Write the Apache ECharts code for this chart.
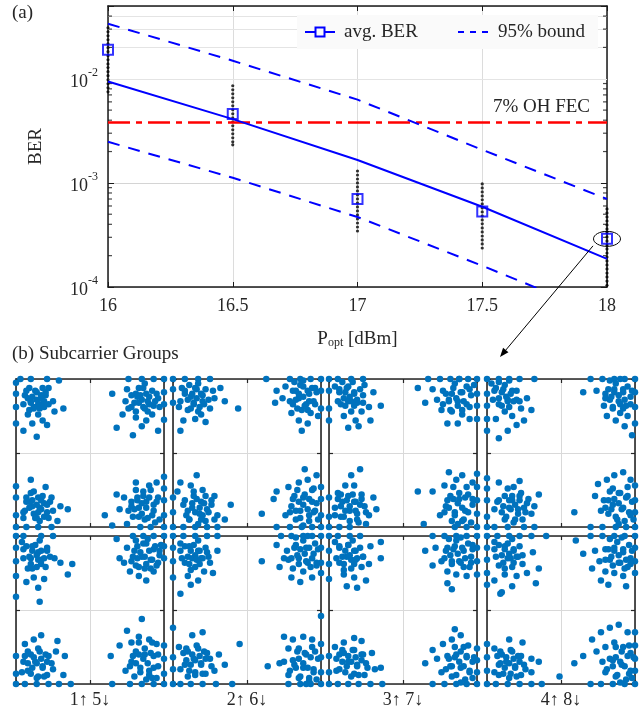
<!DOCTYPE html>
<html><head><meta charset="utf-8">
<script src="https://cdn.jsdelivr.net/npm/echarts@6/dist/echarts.min.js"></script>
<style>html,body{margin:0;padding:0;background:#fff}#c{width:644px;height:713px}</style>
</head><body><div id="c"></div>
<script>
// ---------- (a) BER data ----------
const xTicks = [16, 16.5, 17, 17.5, 18];
const fitX = [16, 16.5, 17, 17.5, 18];
const fitBER = [0.0094, 0.0041, 0.00166, 0.00059, 0.000186];
const upperBER = [0.0338, 0.0149, 0.0063, 0.00208, 0.00070];
const lowerBER = [0.00248, 0.00112, 0.00047, 0.00016, 0.000052];
const avgX = [16, 16.5, 17, 17.5, 18];
const avgBER = [0.019, 0.0046, 0.0007, 0.00053, 0.00029];
const fecBER = 0.0038;
const subBER16 = [0.0309,0.0283,0.0259,0.0237,0.0217,0.0199,0.0182,0.0166,0.0152,0.0139,0.0128,0.0117,0.0107,0.00978,0.00895,0.00819,0.0075];
const subBER165 = [0.00857,0.00784,0.00717,0.00656,0.00601,0.0055,0.00503,0.00461,0.00421,0.00386,0.00353,0.00323,0.00296,0.00271,0.00248,0.00232];
const subBER17 = [0.0013,0.00119,0.00109,0.001,0.000915,0.000837,0.000767,0.000702,0.000642,0.000588,0.000538,0.000492,0.000451,0.000412,0.000377,0.000345];
const subBER175 = [0.000978,0.000895,0.000819,0.00075,0.000687,0.000628,0.000575,0.000526,0.000482,0.000441,0.000404,0.000369,0.000338,0.000309,0.000283,0.000259,0.000237];
const subBER18 = [0.000562,0.000515,0.000471,0.000431,0.000395,0.000361,0.000331,0.000303,0.000277,0.000253,0.000232,0.000212,0.000194,0.000178,0.000163,0.000149,0.000136,0.000125,0.000114,0.000104];
const minorBER = [2e-4,3e-4,4e-4,5e-4,6e-4,7e-4,8e-4,9e-4,2e-3,3e-3,4e-3,5e-3,6e-3,7e-3,8e-3,9e-3,2e-2,3e-2,4e-2];

// ---------- (b) constellations (row 1: a, row 2: b) ----------
const groupLabels = ['1\u2191 5\u2193','2\u2191 6\u2193','3\u2191 7\u2193','4\u2191 8\u2193'];
const c1a = [[-100,95],[-100,80],[-100,62],[-94,100],[-80,100],[-58,100],[-42,98],[-88,78],[-80,70],[-72,82],[-66,74],[-76,60],[-62,62],[-70,52],[-56,88],[-50,70],[-84,52],[-64,44],[-78,40],[-48,56],[-36,60],[-58,38],[-90,30],[-72,22],[-100,40],[-68,66],[-60,78],[-82,88],
 [100,100],[86,100],[70,100],[52,100],[100,82],[100,66],[100,45],[30,80],[50,86],[62,80],[72,88],[80,76],[66,68],[56,62],[74,60],[86,64],[92,74],[48,70],[62,48],[76,44],[84,52],[44,52],[36,34],[58,24],[70,36],[92,30],[78,70],[68,78],
 [-100,-100],[-86,-100],[-70,-100],[-52,-100],[-100,-84],[-100,-60],[-100,-45],[-86,-60],[-76,-52],[-66,-64],[-78,-72],[-70,-80],[-58,-70],[-88,-78],[-62,-86],[-50,-78],[-74,-88],[-80,-36],[-60,-46],[-52,-60],[-40,-72],[-30,-76],[-44,-92],[-90,-88],[-68,-74],[-82,-66],
 [100,-100],[100,-84],[100,-64],[100,-48],[100,-32],[82,-100],[68,-100],[50,-96],[30,-98],[20,-84],[40,-76],[56,-72],[64,-60],[72,-52],[80,-44],[90,-40],[62,-40],[76,-66],[86,-70],[70,-82],[58,-86],[46,-60],[36,-56],[84,-84],[92,-60],[66,-74],[74,-90],
 [-72,72],[-78,76],[-66,78],[-70,66],[-80,68],[-62,70],[-74,84],[-84,74],[-68,60],[-76,62],[-60,82],[-86,84],[-64,88],[-90,66],[-56,66],[-82,58],
 [70,72],[64,76],[76,80],[80,66],[60,68],[72,62],[84,84],[66,88],[56,78],[90,80],[78,56],[52,60],[88,70],[62,56],[74,94],[94,62],
 [-72,-70],[-66,-76],[-78,-64],[-62,-68],[-82,-74],[-70,-60],[-76,-82],[-58,-80],[-86,-66],[-64,-58],[-90,-80],[-54,-66],[-68,-92],[-80,-54],[-72,-88],[-56,-88],
 [70,-68],[76,-74],[64,-64],[80,-60],[60,-76],[72,-58],[86,-78],[66,-86],[56,-66],[90,-66],[78,-88],[52,-78],[82,-50],[62,-50],[94,-90],[88,-94]];
const c2a = [[-100,100],[-100,86],[-100,68],[-92,62],[-84,100],[-66,100],[-50,100],[-84,84],[-76,76],[-68,86],[-60,78],[-72,66],[-58,66],[-80,58],[-66,56],[-50,60],[-44,74],[-36,88],[-30,70],[-86,44],[-70,46],[-56,42],[-62,52],[-90,30],[-46,84],[-12,60],
 [100,100],[86,100],[72,100],[58,100],[100,84],[100,60],[26,100],[40,84],[52,90],[66,84],[76,90],[84,80],[70,74],[80,66],[90,70],[62,66],[74,58],[86,54],[60,54],[70,44],[82,40],[48,74],[96,50],[74,30],[38,68],[92,88],
 [-100,-60],[-100,-80],[-100,-100],[-86,-100],[-70,-100],[-54,-100],[-40,-100],[-94,-52],[-84,-64],[-72,-58],[-62,-66],[-74,-74],[-64,-82],[-82,-84],[-54,-76],[-48,-64],[-60,-50],[-76,-44],[-68,-30],[-90,-40],[-40,-84],[-30,-90],[-22,-70],[-56,-92],[-44,-58],[-78,-90],
 [100,-100],[100,-84],[100,-62],[100,-46],[88,-100],[74,-100],[58,-100],[40,-100],[20,-82],[40,-52],[56,-46],[70,-40],[82,-36],[90,-48],[64,-58],[76,-60],[88,-66],[60,-72],[72,-78],[84,-84],[52,-84],[66,-90],[92,-78],[36,-62],[78,-22],[94,-30],
 [-68,74],[-74,80],[-62,80],[-72,68],[-80,72],[-60,70],[-70,88],[-84,80],[-64,62],[-76,60],[-56,86],[-88,88],[-52,72],[-90,70],[-66,94],[-78,92],
 [76,76],[70,80],[82,84],[84,70],[66,72],[78,64],[88,88],[72,92],[62,84],[94,82],[82,58],[58,70],[92,66],[68,60],[76,98],[64,96],
 [-64,-74],[-70,-80],[-58,-68],[-74,-68],[-60,-84],[-68,-62],[-80,-78],[-52,-80],[-78,-90],[-56,-58],[-86,-70],[-48,-70],[-66,-96],[-72,-52],[-62,-90],[-44,-90],
 [76,-70],[82,-76],[70,-66],[84,-62],[66,-78],[78,-56],[90,-80],[72,-88],[62,-62],[94,-68],[84,-92],[58,-80],[88,-50],[68,-50],[96,-90],[76,-98]];
const c3a = [[-100,100],[-100,84],[-100,60],[-100,44],[-88,100],[-70,100],[-54,100],[-86,82],[-76,88],[-66,80],[-74,70],[-84,66],[-62,68],[-54,78],[-70,56],[-56,56],[-80,50],[-64,44],[-46,62],[-40,82],[-44,44],[-60,36],[-74,34],[-30,64],[-52,92],
 [100,100],[88,100],[76,100],[64,100],[50,100],[34,100],[100,80],[100,64],[100,46],[20,88],[40,86],[54,84],[68,88],[80,82],[90,86],[46,72],[62,72],[74,70],[86,66],[30,68],[52,58],[66,56],[80,52],[90,46],[60,40],[74,40],
 [-100,-100],[-86,-100],[-72,-100],[-100,-86],[-100,-60],[-92,-74],[-82,-66],[-74,-58],[-64,-66],[-72,-78],[-62,-82],[-84,-86],[-52,-72],[-56,-56],[-66,-44],[-78,-44],[-46,-84],[-40,-60],[-60,-94],[-88,-54],[-70,-30],[-58,-22],[-36,-76],[-50,-96],
 [100,-100],[100,-82],[100,-64],[100,-46],[100,-28],[86,-100],[70,-100],[28,-96],[20,-52],[40,-52],[56,-44],[72,-36],[80,-30],[64,-58],[76,-62],[88,-56],[58,-72],[70,-80],[84,-78],[94,-70],[66,-92],[80,-92],[50,-84],[94,-40],[62,-26],
 [-72,76],[-78,82],[-66,82],[-70,70],[-80,74],[-62,72],[-74,90],[-86,86],[-66,64],[-78,64],[-58,86],[-88,70],[-54,68],[-92,90],[-68,96],[-82,96],
 [72,74],[66,80],[78,82],[82,70],[62,70],[74,64],[86,90],[70,94],[58,80],[92,78],[80,58],[54,66],[90,62],[64,58],[76,100],[96,92],
 [-72,-72],[-78,-78],[-66,-66],[-76,-64],[-84,-72],[-64,-78],[-80,-86],[-58,-70],[-88,-62],[-68,-56],[-92,-84],[-56,-62],[-72,-92],[-84,-56],[-62,-90],[-50,-80],
 [74,-68],[80,-74],[68,-62],[84,-60],[62,-74],[76,-54],[88,-80],[70,-84],[60,-64],[94,-62],[82,-90],[56,-80],[86,-46],[68,-46],[92,-94],[74,-96]];
const c4a = [[-100,100],[-100,80],[-100,64],[-100,46],[-100,30],[-84,100],[-70,100],[-56,100],[-36,100],[-90,84],[-78,86],[-66,84],[-72,72],[-60,72],[-84,66],[-54,60],[-76,56],[-66,50],[-88,46],[-46,74],[-40,58],[-60,38],[-72,30],[-84,20],[-50,44],
 [100,100],[86,100],[72,100],[56,100],[40,100],[100,82],[100,62],[100,40],[30,82],[48,84],[60,80],[72,86],[84,82],[94,76],[66,72],[78,70],[88,64],[58,64],[70,60],[80,54],[62,50],[74,44],[90,50],[86,36],[96,24],
 [-100,-100],[-100,-86],[-100,-64],[-100,-48],[-100,-34],[-90,-100],[-72,-100],[-50,-100],[-36,-100],[-86,-66],[-76,-58],[-66,-64],[-56,-58],[-44,-62],[-70,-74],[-58,-76],[-80,-80],[-48,-80],[-36,-72],[-62,-90],[-76,-90],[-30,-56],[-64,-46],[-84,-40],[-56,-38],[-90,-76],
 [100,-100],[100,-80],[100,-64],[100,-44],[88,-100],[74,-100],[56,-100],[40,-100],[18,-80],[50,-42],[62,-36],[72,-30],[84,-26],[94,-36],[66,-52],[78,-54],[90,-58],[58,-64],[70,-70],[82,-76],[94,-84],[64,-82],[76,-90],[46,-58],[54,-78],
 [-74,76],[-80,82],[-68,80],[-72,70],[-84,74],[-64,70],[-76,92],[-88,88],[-70,62],[-80,64],[-60,84],[-92,72],[-56,70],[-94,94],[-70,98],[-84,96],
 [78,78],[72,82],[84,86],[86,72],[68,76],[80,66],[90,90],[74,94],[64,86],[96,84],[84,60],[60,74],[94,66],[70,62],[80,100],[66,98],
 [-62,-70],[-68,-76],[-56,-64],[-70,-64],[-58,-82],[-66,-58],[-78,-72],[-50,-74],[-74,-86],[-54,-54],[-84,-64],[-46,-68],[-64,-94],[-72,-48],[-52,-90],[-40,-82],
 [78,-68],[84,-74],[72,-62],[88,-60],[68,-76],[80,-54],[92,-80],[74,-86],[64,-64],[96,-66],[86,-92],[60,-74],[90,-46],[70,-48],[98,-90],[78,-96]];
const c1b = [[-100,100],[-100,84],[-100,66],[-100,46],[-100,18],[-90,100],[-66,100],[-50,100],[-90,82],[-78,86],[-70,78],[-80,70],[-66,68],[-58,80],[-72,58],[-60,58],[-84,56],[-48,70],[-40,64],[-76,44],[-62,42],[-70,30],[-86,38],[-68,11],[-30,48],[-24,62],
 [100,100],[100,86],[100,70],[86,100],[72,100],[58,100],[36,96],[50,84],[64,86],[76,90],[86,82],[94,74],[58,72],[70,72],[82,68],[90,60],[46,64],[62,60],[74,56],[86,52],[66,46],[76,40],[54,52],[40,70],[96,88],
 [-100,-100],[-100,-86],[-100,-62],[-88,-100],[-72,-100],[-56,-100],[-42,-100],[-26,-100],[-90,-70],[-80,-60],[-70,-52],[-60,-60],[-74,-70],[-64,-76],[-84,-82],[-52,-72],[-46,-56],[-58,-88],[-70,-90],[-34,-62],[-36,-88],[-76,-40],[-66,-34],[-88,-46],[-44,-42],
 [100,-100],[100,-86],[100,-66],[100,-48],[86,-100],[70,-100],[54,-100],[30,-100],[50,-28],[70,-12],[28,-62],[40,-48],[56,-44],[66,-36],[80,-40],[90,-46],[62,-56],[74,-60],[86,-62],[56,-70],[68,-78],[80,-82],[92,-76],[48,-82],[60,-90],[84,-92],
 [-72,74],[-78,80],[-66,80],[-70,68],[-82,72],[-62,70],[-74,88],[-86,86],[-66,62],[-80,62],[-58,84],[-90,70],[-54,72],[-92,92],[-68,94],[-78,56],
 [74,72],[68,78],[80,80],[84,68],[64,70],[76,62],[88,86],[72,90],[60,80],[94,80],[82,56],[56,66],[92,64],[66,58],[78,96],[62,94],
 [-72,-72],[-78,-78],[-66,-66],[-76,-64],[-84,-72],[-64,-78],[-80,-86],[-58,-70],[-88,-62],[-68,-56],[-92,-84],[-56,-62],[-72,-92],[-84,-56],[-62,-90],[-50,-80],
 [72,-66],[78,-72],[66,-60],[82,-58],[62,-72],[74,-52],[86,-78],[68,-84],[58,-62],[92,-60],[80,-88],[54,-76],[84,-44],[66,-44],[90,-92],[76,-94]];
const c2b = [[-100,100],[-100,84],[-100,66],[-100,44],[-100,-24],[-86,100],[-70,100],[-54,100],[-40,100],[-90,80],[-78,86],[-66,80],[-74,70],[-62,70],[-84,64],[-50,64],[-70,58],[-58,52],[-80,46],[-46,50],[-66,40],[-76,34],[-90,22],[-54,78],[-40,80],
 [100,100],[88,100],[76,100],[60,100],[46,100],[100,84],[100,64],[100,50],[20,66],[40,88],[54,80],[66,88],[80,84],[90,76],[56,68],[70,70],[82,64],[94,60],[44,58],[62,56],[76,52],[88,44],[60,44],[72,38],[50,70],
 [-100,-100],[-100,-80],[-100,-64],[-90,-100],[-76,-100],[-60,-100],[-42,-100],[-20,-100],[-92,-50],[-80,-56],[-68,-48],[-58,-56],[-72,-66],[-62,-72],[-84,-74],[-50,-66],[-38,-60],[-70,-84],[-56,-86],[-80,-90],[-44,-82],[-30,-74],[-74,-34],[-60,-30],[-10,-46],
 [100,-100],[100,-84],[100,-64],[100,-46],[100,-8],[86,-100],[72,-100],[56,-100],[44,-72],[50,-36],[62,-40],[76,-36],[88,-40],[56,-52],[68,-56],[80,-60],[92,-56],[50,-70],[64,-74],[76,-78],[90,-80],[56,-88],[70,-92],[84,-92],[28,-76],
 [-70,74],[-76,80],[-64,80],[-68,68],[-80,72],[-60,70],[-72,88],[-84,86],[-64,62],[-78,62],[-56,84],[-88,70],[-52,72],[-90,90],[-66,94],[-76,54],
 [78,76],[72,82],[84,84],[88,70],[68,74],[80,66],[92,90],[76,94],[64,84],[96,82],[86,58],[60,70],[94,64],[70,62],[82,100],[66,98],
 [-70,-68],[-76,-74],[-64,-62],[-74,-60],[-82,-68],[-62,-74],[-78,-82],[-56,-66],[-86,-58],[-66,-52],[-90,-80],[-54,-58],[-70,-88],[-82,-52],[-60,-86],[-48,-76],
 [76,-72],[82,-78],[70,-66],[86,-64],[66,-78],[78,-58],[90,-84],[72,-90],[62,-68],[96,-66],[84,-96],[58,-82],[88,-50],[70,-52],[94,-94],[80,-100]];
const c3b = [[-100,100],[-100,80],[-100,62],[-100,42],[-88,100],[-72,100],[-58,100],[-86,84],[-74,88],[-64,80],[-76,72],[-64,68],[-86,64],[-54,72],[-70,56],[-56,58],[-80,48],[-66,44],[-46,62],[-44,86],[-30,70],[-30,92],[-50,40],[-62,30],[-76,32],
 [100,100],[86,100],[72,100],[56,100],[40,100],[100,84],[100,66],[100,48],[30,80],[44,84],[58,80],[70,86],[82,80],[92,72],[52,66],[66,66],[78,64],[90,58],[60,52],[72,48],[86,46],[60,36],[66,28],[40,60],[94,88],
 [-100,-100],[-100,-84],[-100,-62],[-88,-100],[-74,-100],[-60,-100],[-44,-100],[-28,-100],[-90,-66],[-80,-58],[-68,-54],[-56,-60],[-74,-70],[-62,-74],[-86,-80],[-50,-72],[-42,-58],[-66,-86],[-52,-88],[-38,-80],[-80,-44],[-66,-38],[-56,-42],[-30,-78],[-92,-50],
 [100,-100],[100,-84],[100,-68],[100,-52],[86,-100],[72,-100],[56,-100],[40,-100],[30,-72],[40,-54],[54,-46],[66,-40],[78,-34],[46,-66],[60,-62],[72,-60],[86,-64],[94,-70],[64,-76],[78,-78],[90,-84],[52,-84],[66,-90],[70,-26],[82,-50],
 [-72,74],[-78,80],[-66,80],[-70,68],[-82,72],[-62,70],[-74,88],[-86,86],[-66,62],[-80,62],[-58,84],[-90,70],[-54,72],[-92,92],[-68,94],[-80,54],
 [74,76],[68,82],[80,84],[84,70],[64,74],[76,66],[88,90],[72,94],[60,84],[94,82],[82,58],[56,70],[92,64],[66,62],[78,98],[62,96],
 [-70,-70],[-76,-76],[-64,-64],[-74,-62],[-82,-70],[-62,-76],[-78,-84],[-56,-68],[-86,-60],[-66,-54],[-90,-82],[-54,-60],[-70,-90],[-82,-54],[-60,-88],[-48,-78],
 [76,-70],[82,-76],[70,-64],[86,-62],[66,-76],[78,-56],[90,-82],[72,-88],[62,-66],[96,-64],[84,-94],[58,-80],[88,-48],[70,-50],[94,-92],[78,-98]];
const c4b = [[-100,100],[-100,84],[-100,68],[-100,50],[-100,34],[-86,100],[-70,100],[-56,100],[-40,100],[-20,100],[-90,82],[-76,86],[-64,80],[-72,70],[-58,72],[-84,60],[-66,58],[-52,62],[-76,48],[-60,46],[-46,50],[-90,40],[-66,32],[-80,24],[-38,78],[-30,56],[-34,36],[-82,22],
 [100,100],[100,84],[100,66],[100,50],[86,100],[72,100],[56,100],[40,100],[20,94],[30,76],[46,80],[60,82],[72,84],[84,78],[94,70],[52,66],[66,68],[78,64],[90,58],[60,52],[72,50],[84,46],[54,40],[64,34],[42,56],[88,32],
 [-100,-100],[-100,-82],[-100,-64],[-100,-46],[-88,-100],[-72,-100],[-56,-100],[-40,-100],[-26,-100],[-90,-52],[-80,-60],[-68,-54],[-58,-62],[-74,-70],[-62,-76],[-84,-74],[-50,-74],[-40,-66],[-68,-86],[-54,-88],[-84,-88],[-70,-40],[-52,-44],[-40,-84],[-2,-90],[-30,-70],
 [100,-100],[100,-82],[100,-66],[100,-48],[100,-30],[86,-100],[70,-100],[54,-100],[40,-100],[18,-72],[42,-40],[54,-30],[66,-24],[78,-20],[90,-30],[48,-56],[60,-50],[72,-44],[84,-50],[94,-58],[56,-70],[70,-68],[82,-74],[92,-86],[60,-84],[74,-90],[30,-62],
 [-70,76],[-76,82],[-64,82],[-68,70],[-80,74],[-60,72],[-72,90],[-84,88],[-64,64],[-78,64],[-56,86],[-88,72],[-52,74],[-90,92],[-66,96],[-76,56],
 [78,74],[72,80],[84,82],[88,68],[68,72],[80,64],[92,88],[76,92],[64,82],[96,80],[86,56],[60,68],[94,62],[70,60],[82,98],[66,96],
 [-70,-72],[-76,-78],[-64,-66],[-74,-64],[-82,-72],[-62,-78],[-78,-86],[-56,-70],[-86,-62],[-66,-56],[-90,-84],[-54,-62],[-70,-92],[-82,-56],[-60,-90],[-48,-80],
 [80,-70],[86,-76],[74,-64],[90,-62],[70,-76],[82,-56],[94,-82],[76,-88],[66,-66],[98,-64],[88,-94],[62,-80],[92,-48],[74,-50],[96,-92],[80,-98]];
const panels = [c1a, c2a, c3a, c4a, c1b, c2b, c3b, c4b];
const legendNames = ['avg. BER', '95% bound'];
const fecLabel = '7% OH FEC';

// ---------- chart ----------
const FONT = 'Liberation Serif';
const TXT = '#262626';
const AX = '#1a1a1a';
const BLUE = '#0000ff';
const chart = echarts.init(document.getElementById('c'), null, {renderer: 'canvas'});

const grids = [{left: 108, top: 6, width: 499, height: 281}];
const panelLeft = [16, 173, 329, 487];
const panelTop = [379, 536];
for (let r = 0; r < 2; r++) for (let c = 0; c < 4; c++)
  grids.push({left: panelLeft[c], top: panelTop[r], width: 148, height: 148});

function supLabel(v) {
  const l = Math.log10(v), e = Math.round(l);
  if (Math.abs(l - e) > 1e-6) return '';
  return '{b|10}{s|' + e + '}';
}
const xAxes = [
  {gridIndex: 0, type: 'value', min: 16, max: 18, interval: 0.5, position: 'bottom',
   axisLine: {onZero: false, lineStyle: {color: AX, width: 1.5}},
   axisTick: {inside: true, length: 5, lineStyle: {color: AX}},
   axisLabel: {margin: 10, fontFamily: FONT, fontSize: 18, color: TXT},
   splitLine: {show: true, lineStyle: {color: '#dcdcdc', width: 1}},
   name: '{a|P}{s|opt}{a| [dBm]}', nameLocation: 'middle', nameGap: 38,
   nameTextStyle: {rich: {a: {fontFamily: FONT, fontSize: 19, color: TXT, lineHeight: 24, verticalAlign: 'bottom'},
                          s: {fontFamily: FONT, fontSize: 12, color: TXT, lineHeight: 14, verticalAlign: 'bottom'}}}},
  {gridIndex: 0, type: 'value', min: 16, max: 18, interval: 0.5, position: 'top',
   axisLine: {onZero: false, lineStyle: {color: AX, width: 1.5}},
   axisTick: {inside: true, length: 5, lineStyle: {color: AX}},
   axisLabel: {show: false}, splitLine: {show: false}}
];
const yAxes = [
  {gridIndex: 0, type: 'log', logBase: 10, min: 1e-4, max: 0.05, position: 'left',
   axisLine: {onZero: false, lineStyle: {color: AX, width: 1.5}},
   axisTick: {inside: true, length: 6, lineStyle: {color: AX}},
   axisLabel: {margin: 10, formatter: supLabel,
     rich: {b: {fontFamily: FONT, fontSize: 18, color: TXT, lineHeight: 24, verticalAlign: 'bottom'},
            s: {fontFamily: FONT, fontSize: 12, color: TXT, lineHeight: 14, verticalAlign: 'top'}}},
   splitLine: {show: true, lineStyle: {color: '#d4d4d4', width: 1}},
   name: 'BER', nameLocation: 'middle', nameGap: 62, nameRotate: 90,
   nameTextStyle: {fontFamily: FONT, fontSize: 19, color: TXT}},
  {gridIndex: 0, type: 'log', logBase: 10, min: 1e-4, max: 0.05, position: 'right',
   axisLine: {onZero: false, lineStyle: {color: AX, width: 1.5}},
   axisTick: {inside: true, length: 6, lineStyle: {color: AX}},
   axisLabel: {show: false}, splitLine: {show: false}}
];
const PAX = '#262626';
for (let i = 0; i < 8; i++) {
  const g = i + 1, bottomRow = i >= 4;
  const base = {gridIndex: g, type: 'value', min: -100, max: 100, interval: 100,
    axisLine: {onZero: false, lineStyle: {color: PAX, width: 1.6}},
    axisTick: {inside: true, length: 4, lineStyle: {color: PAX, width: 1.2}},
    axisLabel: {show: false}};
  xAxes.push(Object.assign({}, base, {position: 'bottom',
    splitLine: {show: true, lineStyle: {color: '#d9d9d9', width: 1}},
    name: bottomRow ? groupLabels[i - 4] : '', nameLocation: 'middle', nameGap: 7,
    nameTextStyle: {fontFamily: FONT, fontSize: 18, color: TXT}}));
  xAxes.push(Object.assign({}, base, {position: 'top', splitLine: {show: false}}));
  yAxes.push(Object.assign({}, base, {position: 'left',
    splitLine: {show: true, lineStyle: {color: '#d9d9d9', width: 1}}}));
  yAxes.push(Object.assign({}, base, {position: 'right', splitLine: {show: false}}));
}

const zip = (xs, ys) => xs.map((x, i) => [x, ys[i]]);
const xMin = xTicks[0], xMax = xTicks[xTicks.length - 1];
const series = [
  {type: 'line', name: '_minor', xAxisIndex: 0, yAxisIndex: 0, data: [], z: 1, silent: true,
   markLine: {silent: true, symbol: 'none', animation: false, z: 1, label: {show: false},
     lineStyle: {color: '#e4e4e4', width: 1, type: 'solid'},
     data: minorBER.map(v => ({yAxis: v}))}},
  {type: 'scatter', name: '_minorTicks', xAxisIndex: 0, yAxisIndex: 0, silent: true, z: 3,
   symbol: 'rect', symbolSize: [4, 1.2],
   data: minorBER.map(v => ({value: [xMin, v], symbolOffset: [2, 0]}))
     .concat(minorBER.map(v => ({value: [xMax, v], symbolOffset: [-2, 0]}))),
   itemStyle: {color: AX}},
  {type: 'scatter', name: '_sub', xAxisIndex: 0, yAxisIndex: 0, silent: true, z: 4,
   symbol: 'circle', symbolSize: 3.2, itemStyle: {color: '#000'},
   data: [].concat(subBER16.map(v => [16, v]), subBER165.map(v => [16.5, v]), subBER17.map(v => [17, v]),
                   subBER175.map(v => [17.5, v]), subBER18.map(v => [18, v]))},
  {type: 'line', name: 'FEC', xAxisIndex: 0, yAxisIndex: 0, data: [[xMin, fecBER], [xMax, fecBER]], z: 5,
   symbol: 'none', silent: true, lineStyle: {color: '#ff0000', width: 2.5, type: [22, 6, 6, 6]}},
  {type: 'line', name: 'avg. BER', xAxisIndex: 0, yAxisIndex: 0, data: zip(fitX, fitBER), z: 5,
   symbol: 'none', clip: true, lineStyle: {color: BLUE, width: 2}},
  {type: 'line', name: '95% bound', xAxisIndex: 0, yAxisIndex: 0, data: zip(fitX, upperBER), z: 5,
   symbol: 'none', clip: true, lineStyle: {color: BLUE, width: 2, type: [12, 9]}},
  {type: 'line', name: '95% bound', xAxisIndex: 0, yAxisIndex: 0, data: zip(fitX, lowerBER), z: 5,
   symbol: 'none', clip: true, lineStyle: {color: BLUE, width: 2, type: [12, 9]}},
  {type: 'scatter', name: '_avg', xAxisIndex: 0, yAxisIndex: 0, data: zip(avgX, avgBER), z: 6, clip: false,
   symbol: 'rect', symbolSize: 10,
   itemStyle: {color: 'rgba(0,0,0,0)', borderColor: BLUE, borderWidth: 2}}
];
panels.forEach((pts, i) => {
  series.push({type: 'scatter', name: '_p' + i, xAxisIndex: 2 + 2 * i, yAxisIndex: 2 + 2 * i,
    data: pts, symbol: 'circle', symbolSize: 6.5, clip: false, silent: true, z: 4,
    itemStyle: {color: '#0072BD', opacity: 1}});
});

chart.setOption({animation: false, backgroundColor: '#fff',
  grid: grids, xAxis: xAxes, yAxis: yAxes, series: series});

// annotations
const last = avgX.length - 1;
const p = chart.convertToPixel({xAxisIndex: 0, yAxisIndex: 0}, [avgX[last], avgBER[last]]);
const f = chart.convertToPixel({xAxisIndex: 0, yAxisIndex: 0}, [xMax, fecBER]);
const sx = p[0] - 14, sy = p[1] + 7, ex = 500, ey = 357;
const dx = ex - sx, dy = ey - sy, L = Math.hypot(dx, dy), ux = dx / L, uy = dy / L;
const hl = 9, hw = 3.5, bx = ex - hl * ux, by = ey - hl * uy;
const font19 = '19px "Liberation Serif"';
const lgY = 32;
chart.setOption({graphic: [
  {type: 'text', left: 12, top: 4, style: {text: '(a)', font: font19, fill: TXT}},
  {type: 'text', left: 12, top: 345, style: {text: '(b) Subcarrier Groups', font: font19, fill: TXT}},
  {type: 'text', z: 10, x: f[0] - 17, y: f[1] - 6, style: {text: fecLabel, font: font19, fill: TXT, align: 'right', verticalAlign: 'bottom'}},
  // legend box
  {type: 'rect', z: 20, shape: {x: 297, y: 15, width: 301, height: 34}, style: {fill: '#fafafa', stroke: 'none'}},
  {type: 'line', z: 21, shape: {x1: 305, y1: lgY, x2: 335, y2: lgY}, style: {stroke: BLUE, lineWidth: 2}},
  {type: 'rect', z: 22, shape: {x: 315.5, y: lgY - 4.5, width: 9, height: 9}, style: {fill: '#fafafa', stroke: BLUE, lineWidth: 2}},
  {type: 'text', z: 21, x: 344, y: lgY, style: {text: legendNames[0], font: font19, fill: TXT, verticalAlign: 'middle'}},
  {type: 'line', z: 21, shape: {x1: 458, y1: lgY, x2: 490, y2: lgY}, style: {stroke: BLUE, lineWidth: 2, lineDash: [6, 6]}},
  {type: 'text', z: 21, x: 498, y: lgY, style: {text: legendNames[1], font: font19, fill: TXT, verticalAlign: 'middle'}},
  // ellipse + arrow
  {type: 'ellipse', shape: {cx: p[0], cy: p[1], rx: 13.5, ry: 7.5}, z: 10,
   style: {fill: 'none', stroke: '#000', lineWidth: 1}},
  {type: 'line', shape: {x1: sx, y1: sy, x2: bx, y2: by}, z: 10, style: {stroke: '#000', lineWidth: 1}},
  {type: 'polygon', z: 10, shape: {points: [[ex, ey], [bx + hw * (-uy), by + hw * ux], [bx - hw * (-uy), by - hw * ux]]},
   style: {fill: '#000'}}
]});
</script></body></html>
